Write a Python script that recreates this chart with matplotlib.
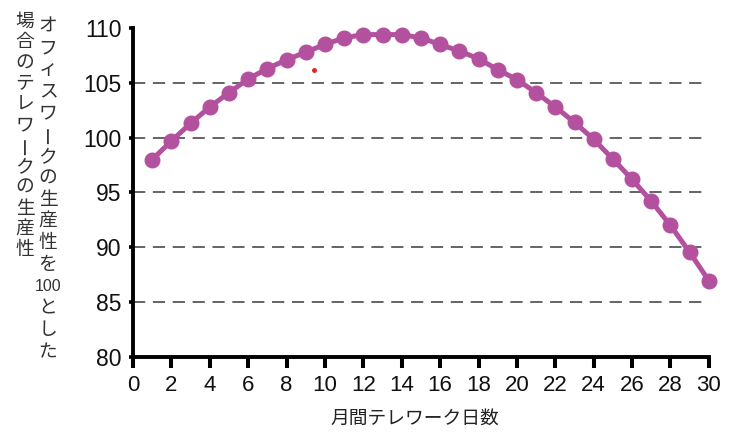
import matplotlib.pyplot as plt

plt.rcParams['font.family'] = ['Liberation Sans', 'Noto Sans CJK JP', 'DejaVu Sans']

days = list(range(1, 31))
productivity = [98.0, 99.7, 101.3, 102.8, 104.1, 105.35, 106.3, 107.1, 107.8, 108.5,
                109.1, 109.4, 109.4, 109.4, 109.1, 108.5, 107.9, 107.2, 106.2, 105.3,
                104.1, 102.8, 101.4, 99.85, 98.05, 96.2, 94.2, 92.0, 89.55, 86.95]
stray_x, stray_y = [9.43], [106.15]

xticks = list(range(0, 31, 2))
yticks = [80, 85, 90, 95, 100, 105, 110]
grid_levels = [85, 90, 95, 100, 105]

ylabel_right = ['オ', 'フ', 'ィ', 'ス', 'ワ', 'ー', 'ク', 'の', '生', '産', '性', 'を', '100', 'と', 'し', 'た']
ylabel_left = ['場', '合', 'の', 'テ', 'レ', 'ワ', 'ー', 'ク', 'の', '生', '産', '性']
xlabel = '月間テレワーク日数'

purple = '#B4519E'
W, H = 729, 441

fig = plt.figure(figsize=(W / 100, H / 100), dpi=100)
ax = fig.add_axes([0.1824, 0.1905, 0.790, 0.746])

for lv in grid_levels:
    ax.plot([0, 30], [lv, lv], color='#3a3a3a', lw=1.1, ls=(0, (8, 5)), zorder=1)

ax.plot(days, productivity, color=purple, lw=3.6, marker='o', markersize=10.5,
        clip_on=False, zorder=3)
ax.plot(stray_x, stray_y, 'o', color='#e0241b', markersize=2.5, zorder=4)

ax.set_xlim(0, 30)
ax.set_ylim(80, 110)
ax.set_xticks(xticks)
ax.set_yticks(yticks)
ax.tick_params(axis='x', length=8, width=2.9, labelsize=16, pad=5, labelcolor='#111111')
ax.tick_params(axis='y', length=3, width=2.6, labelsize=16.5, pad=5, labelcolor='#111111')

for s in ['top', 'right']:
    ax.spines[s].set_visible(False)
for s in ['left', 'bottom']:
    ax.spines[s].set_linewidth(2.8)

fig.text(415 / W, 1 - 418 / H, xlabel, ha='center', va='center', fontsize=13.5,
         family=['Noto Sans CJK JP'], color='#222222')

# vertical (tategaki) axis caption: glyphs stacked top to bottom,
# long-vowel mark turned upright, "100" kept upright in one slot
for col_x, chars, top, step in [(48, ylabel_right, 26, 21.7), (25, ylabel_left, 21, 20.8)]:
    for i, ch in enumerate(chars):
        yc = 1 - (top + i * step) / H
        kw = dict(ha='center', va='center', color='#333333')
        if ch == '100':
            fig.text(col_x / W, yc, ch, fontsize=11.5,
                     family=['Liberation Sans Narrow', 'Liberation Sans'], **kw)
        elif ch == 'ー':
            fig.text(col_x / W, yc, ch, fontsize=13.5, rotation=90,
                     family=['Noto Sans CJK JP'], **kw)
        else:
            fig.text(col_x / W, yc, ch, fontsize=13.5,
                     family=['Noto Sans CJK JP'], **kw)

fig.savefig('out.png', dpi=100)
